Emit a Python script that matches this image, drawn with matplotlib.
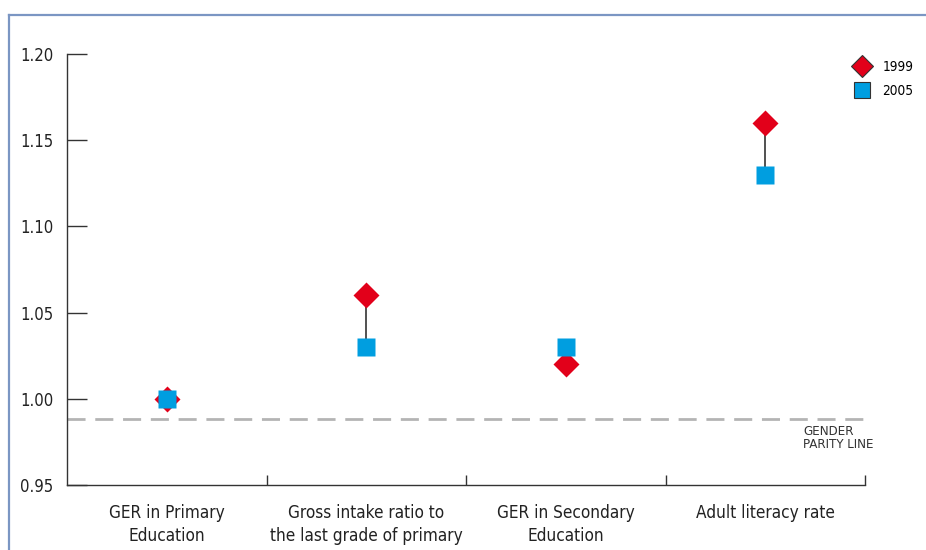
import matplotlib
matplotlib.use('Agg')
import matplotlib.pyplot as plt
from matplotlib.lines import Line2D
from matplotlib import font_manager

# categories and values
categories = ['GER in Primary\nEducation',
              'Gross intake ratio to\nthe last grade of primary',
              'GER in Secondary\nEducation',
              'Adult literacy rate']
gpi_1999 = [1.00, 1.06, 1.02, 1.16]
gpi_2005 = [1.00, 1.03, 1.03, 1.13]
yticks = [0.95, 1.00, 1.05, 1.10, 1.15, 1.20]
parity_line = 0.988

red = '#e2001a'
blue = '#009ee0'
frame_col = '#7b96c3'

# look for a narrow/condensed face, otherwise fall back to Roboto
narrow = None
for f in font_manager.fontManager.ttflist:
    tag = (f.name + ' ' + str(f.stretch)).lower()
    if ('condensed' in tag or 'narrow' in tag) and f.style == 'normal' \
            and f.weight in (400, 'normal', 'regular') and 'semi' not in tag and 'extra' not in tag:
        narrow = f
        break
if narrow is not None:
    fam = narrow.name
    stretch = narrow.stretch
else:
    fam = 'Roboto'
    stretch = 'normal'
plt.rcParams['font.family'] = [fam, 'DejaVu Sans']
plt.rcParams['font.stretch'] = stretch

fig = plt.figure(figsize=(9.26, 5.5), dpi=100)
ax = fig.add_axes([67/926, 65/550, (865-67)/926, (485-54)/550])

xs = [i + 0.5 for i in range(len(categories))]

# connecting lines, then markers
for x, a, b in zip(xs, gpi_1999, gpi_2005):
    ax.plot([x, x], [a, b], color='#222222', lw=1.1, zorder=2)
ax.plot(xs, gpi_1999, ls='none', marker='D', ms=12.8, color=red, mec='none', zorder=3)
ax.plot(xs, gpi_2005, ls='none', marker='s', ms=13, color=blue, mec='none', zorder=4)

# gender parity line
ax.axhline(parity_line, color='#b4b4b4', lw=2, dashes=(6.5, 3.5), zorder=1)
ax.text(3.69, 0.9848, 'GENDER\nPARITY LINE', fontsize=9.5, va='top', ha='left',
        color='#333333', linespacing=0.95)

ax.set_xlim(0, len(categories))
ax.set_ylim(yticks[0], yticks[-1])
ax.set_yticks(yticks)
ax.set_yticklabels([f'{v:.2f}' for v in yticks])
ax.set_xticks(xs)
ax.set_xticklabels(categories, linespacing=1.35)
ax.set_xticks(range(1, len(categories) + 1), minor=True)

ax.tick_params(axis='y', direction='in', length=14.4, width=1, color='#333333',
               pad=10, labelsize=12, labelcolor='#222222')
ax.tick_params(axis='x', which='major', length=0, pad=14, labelsize=12.3,
               labelcolor='#222222')
ax.tick_params(axis='x', which='minor', direction='in', length=7, width=1,
               color='#333333')

for s in ['top', 'right']:
    ax.spines[s].set_visible(False)
for s in ['left', 'bottom']:
    ax.spines[s].set_color('#333333')
    ax.spines[s].set_linewidth(1)

# legend
handles = [Line2D([], [], ls='none', marker='D', ms=11.5, color=red, mec='#333333', mew=0.8),
           Line2D([], [], ls='none', marker='s', ms=11.5, color=blue, mec='#333333', mew=0.8)]
fig.legend(handles, ['1999', '2005'], loc='upper left', bbox_to_anchor=(847/926, 1 - 53/550),
           frameon=False, fontsize=9.8, handlelength=1.2, handletextpad=0.9,
           labelspacing=0.75, borderpad=0)

# outer frame
fig.add_artist(Line2D([9/926, 1], [1 - 15/550] * 2, color=frame_col, lw=1.6,
                      transform=fig.transFigure))
fig.add_artist(Line2D([9/926] * 2, [0, 1 - 15/550], color=frame_col, lw=1.6,
                      transform=fig.transFigure))

fig.savefig('out.png', dpi=100)
